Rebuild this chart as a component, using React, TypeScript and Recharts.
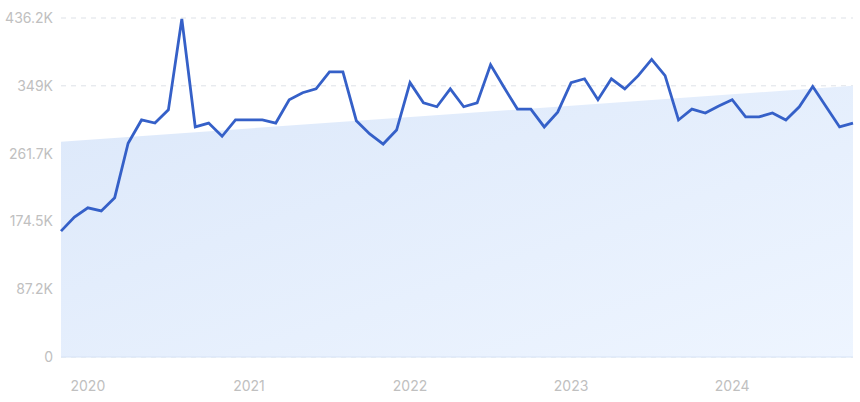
import React from "react";
import { ComposedChart, Line, Area, XAxis, YAxis, CartesianGrid } from "recharts";

const months: string[] = [];
for (let y = 2019; y <= 2024; y++) {
  for (let m = 1; m <= 12; m++) {
    const key = `${y}-${String(m).padStart(2, "0")}`;
    if (key >= "2019-11" && key <= "2024-10") months.push(key);
  }
}

const traffic = [
  162, 180, 192, 188, 205, 275, 305, 301, 318, 435,
  296, 301, 284, 305, 305, 305, 301, 331, 340, 345,
  367, 367, 304, 287, 274, 292, 353, 327, 322, 345,
  322, 327, 376, 347, 319, 319, 296, 315, 353, 358,
  331, 358, 345, 362, 383, 362, 305, 319, 314, 323,
  331, 309, 309, 314, 305, 322, 348, 322, 296, 301,
].map((v) => v * 1000);

const trendStart = 277000;
const trendEnd = 349000;

const yTicks = [0, 87240, 174480, 261720, 348960, 436200];
const yTickLabels = ["0", "87.2K", "174.5K", "261.7K", "349K", "436.2K"];
const xTicks = ["2020-01", "2021-01", "2022-01", "2023-01", "2024-01"];
const xTickLabels = ["2020", "2021", "2022", "2023", "2024"];

const data = months.map((m, i) => ({
  month: m,
  traffic: traffic[i],
  trend: i === 0 ? trendStart : i === months.length - 1 ? trendEnd : null,
}));

const tickStyle = { fill: "#c0c0c0", fontSize: 14, fontFamily: "Inter, sans-serif" };

export default function App() {
  return (
    <div style={{ position: "absolute", left: 0, top: 0, width: 860, height: 402, background: "#fff" }}>
      <ComposedChart width={860} height={402} data={data} margin={{ top: 18, right: 7, bottom: 0, left: 0 }}>
        <defs>
          <linearGradient id="trendFill" x1="0" y1="0" x2="1" y2="1">
            <stop offset="0%" stopColor="#dce8fa" />
            <stop offset="100%" stopColor="#eef5ff" />
          </linearGradient>
        </defs>
        <CartesianGrid horizontal vertical={false} stroke="#dde1e7" strokeDasharray="5 5" />
        <XAxis
          dataKey="month"
          ticks={xTicks}
          tickFormatter={(v: string) => xTickLabels[xTicks.indexOf(v)]}
          tickLine={false}
          axisLine={{ stroke: "#d6e3f6" }}
          tick={tickStyle}
          tickMargin={18}
          height={45}
          interval={0}
        />
        <YAxis
          domain={[0, 436200]}
          ticks={yTicks}
          tickFormatter={(v: number) => yTickLabels[yTicks.indexOf(v)]}
          tickLine={false}
          axisLine={false}
          tick={tickStyle}
          width={61}
          interval={0}
        />
        <Area
          type="linear"
          dataKey="trend"
          connectNulls
          stroke="none"
          fill="url(#trendFill)"
          fillOpacity={1}
          isAnimationActive={false}
          dot={false}
          activeDot={false}
        />
        <Line
          type="linear"
          dataKey="traffic"
          stroke="#3560c8"
          strokeWidth={2.8}
          dot={false}
          activeDot={false}
          isAnimationActive={false}
        />
      </ComposedChart>
    </div>
  );
}
